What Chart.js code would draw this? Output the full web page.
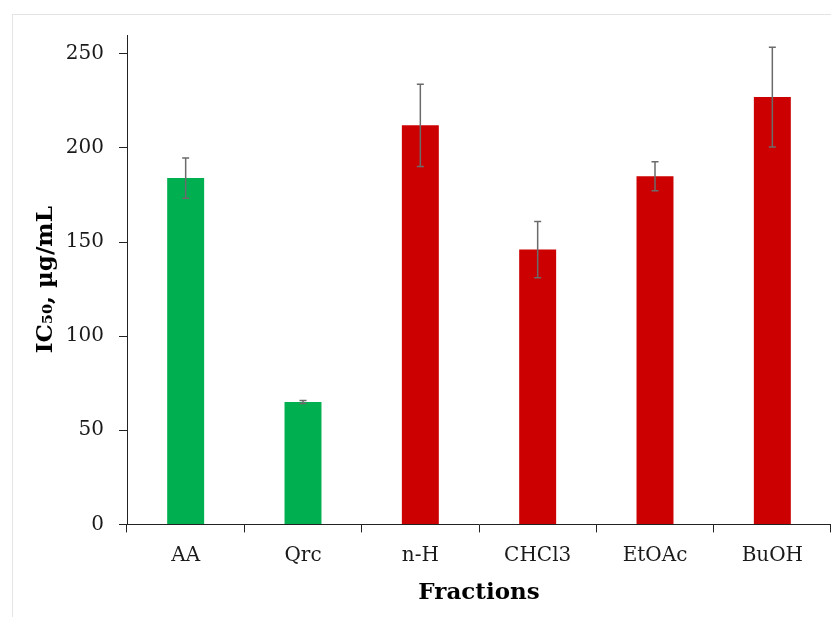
<!DOCTYPE html>
<html>
<head>
<meta charset="utf-8">
<script src="https://cdn.jsdelivr.net/npm/chart.js@4.4.1/dist/chart.umd.min.js"></script>
<style>
  body { margin: 0; background: #fff; }
  #wrap { position: relative; width: 831px; height: 617px; }
  #frame {
    position: absolute; left: 12px; top: 14px; right: 0; bottom: 0;
    border-top: 1px solid #e4e4e4; border-left: 1px solid #e4e4e4;
  }
  canvas { position: absolute; left: 0; top: 0; }
</style>
</head>
<body>
<div id="wrap">
  <div id="frame"></div>
  <canvas id="chart" width="831" height="617"></canvas>
</div>
<script>
// ==================== DATA ====================
const categories = ["AA", "Qrc", "n-H", "CHCl3", "EtOAc", "BuOH"];
const ic50 = [184, 65, 212, 146, 185, 227];
const ic50Err = [10.7, 0.8, 21.8, 14.9, 7.7, 26.5];
const yTicks = [0, 50, 100, 150, 200, 250];

const GREEN = "#00b050";
const RED = "#cc0000";
// the two references are green, the plant fractions red
const barColors = categories.map((c, i) => (i < 2 ? GREEN : RED));

// ==================== ERROR BARS ====================
const errorBars = {
  id: "errorBars",
  afterDatasetsDraw(chart) {
    const ctx = chart.ctx;
    const y = chart.scales.y;
    const meta = chart.getDatasetMeta(0);
    ctx.save();
    ctx.strokeStyle = "#6b6b6b";
    ctx.lineWidth = 1.5;
    meta.data.forEach((bar, i) => {
      const top = y.getPixelForValue(ic50[i] + ic50Err[i]);
      const bot = y.getPixelForValue(ic50[i] - ic50Err[i]);
      const x = bar.x;
      ctx.beginPath();
      ctx.moveTo(x, top); ctx.lineTo(x, bot);
      ctx.moveTo(x - 3.5, top); ctx.lineTo(x + 3.5, top);
      ctx.moveTo(x - 3.5, bot); ctx.lineTo(x + 3.5, bot);
      ctx.stroke();
    });
    ctx.restore();
  }
};

// ==================== CHART ====================
Chart.defaults.font.family = "'DejaVu Serif', serif";
Chart.defaults.color = "#1a1a1a";

new Chart(document.getElementById("chart").getContext("2d"), {
  type: "bar",
  data: {
    labels: categories,
    datasets: [{
      data: ic50,
      backgroundColor: barColors,
      barPercentage: 0.315,
      categoryPercentage: 1
    }]
  },
  options: {
    responsive: false,
    animation: false,
    events: [],
    layout: { padding: { left: 28, top: 35, right: 0, bottom: 10 } },
    plugins: { legend: { display: false }, tooltip: { enabled: false } },
    scales: {
      x: {
        grid: { drawOnChartArea: false, color: "#222", tickLength: 8, offset: true },
        border: { color: "#222", width: 1 },
        ticks: { font: { size: 20 }, padding: 11, color: "#1a1a1a" },
        title: {
          display: true, text: "Fractions",
          font: { size: 23, weight: "bold" }, color: "#000",
          padding: { top: 1, bottom: 0 }
        }
      },
      y: {
        min: 0,
        max: 260,
        afterBuildTicks: axis => { axis.ticks = yTicks.map(v => ({ value: v })); },
        afterFit: axis => { axis.width = 99; },
        grid: { drawOnChartArea: false, color: "#222", tickLength: 8 },
        border: { color: "#222", width: 1 },
        ticks: { font: { size: 20 }, padding: 15, color: "#1a1a1a" },
        title: {
          display: true, text: "IC₅₀, µg/mL",
          font: { size: 23, weight: "bold" }, color: "#000",
          padding: 4
        }
      }
    }
  },
  plugins: [errorBars]
});
</script>
</body>
</html>
